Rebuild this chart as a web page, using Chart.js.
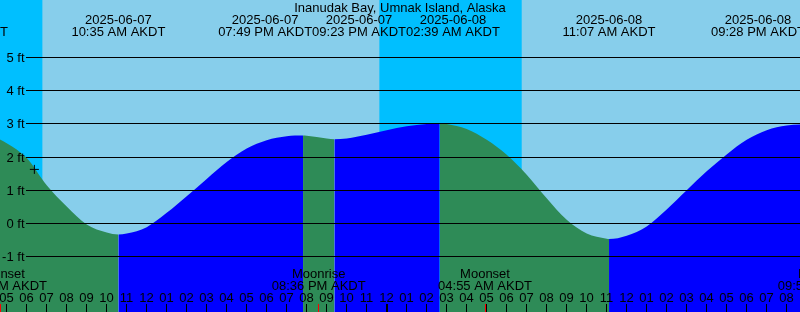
<!DOCTYPE html>
<html>
<head>
<meta charset="utf-8">
<script src="https://cdn.jsdelivr.net/npm/chart.js@4"></script>
<style>
  body { margin: 0; background: #fff; }
  canvas { display: block; }
</style>
</head>
<body>
<canvas id="tide" width="800" height="312"></canvas>
<script>
// station + data (times are AKDT)
const stationName = 'Inanudak Bay, Umnak Island, Alaska';

// hourly tide level, hours counted from 2025-06-07 00:00
const hourTimes = [5, 6, 7, 8, 9, 10, 11, 12, 13, 14, 15, 16, 17, 18, 19, 20, 21, 22, 23, 24,
                   25, 26, 27, 28, 29, 30, 31, 32, 33, 34, 35, 36, 37, 38, 39, 40, 41, 42, 43, 44, 45];
const hourLevels = [2.42, 1.97, 1.15, 0.51, -0.03, -0.27, -0.30, -0.11, 0.32, 0.82, 1.34, 1.85, 2.26, 2.51, 2.63, 2.64, 2.56, 2.56, 2.67, 2.81,
                    2.93, 3.00, 3.00, 2.85, 2.52, 2.07, 1.47, 0.76, 0.11, -0.30, -0.46, -0.37, -0.09, 0.42, 1.00, 1.57, 2.08, 2.52, 2.81, 2.95, 2.99];

// high / low tides
const extremeTimes = ['2025-06-07 02:43', '2025-06-07 10:35', '2025-06-07 19:49', '2025-06-07 21:23',
                      '2025-06-08 02:39', '2025-06-08 11:07', '2025-06-08 21:28'];
const extremeLevels = [3.05, -0.33, 2.65, 2.54, 3.02, -0.47, 3.00];

// sun: rise, set, rise
const sunTimes = ['2025-06-07 06:47', '2025-06-07 23:38', '2025-06-08 06:45'];
const sunKinds = ['rise', 'set', 'rise'];

// moon
const moonTimes = ['2025-06-07 04:40', '2025-06-07 20:36', '2025-06-08 04:55', '2025-06-08 21:54'];
const moonKinds = ['Moonset', 'Moonrise', 'Moonset', 'Moonrise'];

// "now" mark
const nowTime = '2025-06-07 06:23';
const nowLevel = 1.63;

const levelTicks = [-1, 0, 1, 2, 3, 4, 5];

const daySky = '#87ceeb', nightSky = '#00bfff';
const floodColor = '#0000ff', ebbColor = '#2e8b57';
const FONT = '13px "Liberation Sans", Arial, Helvetica, sans-serif';

function toHours(s) {
    return (Date.parse(s.replace(' ', 'T') + ':00Z') - Date.parse('2025-06-07T00:00:00Z')) / 3600000;
}
function clock(s) {
    let hh = parseInt(s.substr(11, 2)), mm = s.substr(14, 2);
    let h12 = hh % 12 || 12;
    return String(h12).padStart(2, '0') + ':' + mm + (hh < 12 ? ' AM' : ' PM') + ' AKDT';
}

// merge hourly points with the extremes
var tidePoints = hourTimes.map((t, i) => ({ x: t, y: hourLevels[i] }));
extremeTimes.forEach((s, i) => tidePoints.push({ x: toHours(s), y: extremeLevels[i] }));
tidePoints.sort((a, b) => a.x - b.x);

const decor = {
    id: 'decor',
    beforeDatasetsDraw(chart) {
        const { ctx, chartArea: a, scales: { x } } = chart;
        ctx.save();
        ctx.fillStyle = daySky;
        ctx.fillRect(a.left, a.top, a.width, a.height);
        ctx.fillStyle = nightSky;
        let nightStart = x.min;
        sunTimes.forEach((s, i) => {
            let t = toHours(s);
            if (sunKinds[i] == 'set') nightStart = t;
            else if (nightStart !== null) {
                let x0 = x.getPixelForValue(nightStart), x1 = x.getPixelForValue(t);
                ctx.fillRect(x0, a.top, x1 - x0, a.height);
                nightStart = null;
            }
        });
        if (nightStart !== null) {
            let x0 = x.getPixelForValue(nightStart);
            ctx.fillRect(x0, a.top, a.right - x0, a.height);
        }
        ctx.restore();
    },
    afterDatasetsDraw(chart) {
        const { ctx, chartArea: a, scales: { x, y } } = chart;
        const W = a.right;
        ctx.save();
        ctx.font = FONT;
        ctx.fillStyle = '#000';
        ctx.strokeStyle = '#000';
        ctx.textBaseline = 'alphabetic';

        // level lines + labels
        ctx.lineWidth = 1;
        levelTicks.forEach(v => {
            let py = Math.floor(y.getPixelForValue(v)) + 0.5;
            ctx.beginPath();
            ctx.moveTo(26, py);
            ctx.lineTo(W, py);
            ctx.stroke();
            ctx.textAlign = 'right';
            ctx.fillText(v + ' ft', 24.5, py + 4.5);
        });

        // title
        ctx.textAlign = 'center';
        ctx.fillText(stationName, W / 2, 12);

        // tide event labels, overlapping ones packed side by side around their mean
        let clusters = [];
        extremeTimes.forEach(s => {
            let w = ctx.measureText(clock(s)).width;
            clusters.push({ items: [s], xs: [x.getPixelForValue(toHours(s))], widths: [w] });
        });
        let span = c => {
            let tot = c.widths.reduce((p, q) => p + q, 0);
            let cx = c.xs.reduce((p, q) => p + q, 0) / c.xs.length;
            return [cx - tot / 2, cx + tot / 2];
        };
        let merged = true;
        while (merged) {
            merged = false;
            for (let i = 0; i < clusters.length - 1; i++) {
                let c1 = clusters[i], c2 = clusters[i + 1];
                if (span(c1)[1] > span(c2)[0]) {
                    clusters.splice(i, 2, {
                        items: c1.items.concat(c2.items),
                        xs: c1.xs.concat(c2.xs),
                        widths: c1.widths.concat(c2.widths)
                    });
                    merged = true;
                    break;
                }
            }
        }
        clusters.forEach(c => {
            let tot = c.widths.reduce((p, q) => p + q, 0);
            let cx = c.xs.reduce((p, q) => p + q, 0) / c.xs.length;
            let left = Math.min(cx, W - 42) - tot / 2;
            c.items.forEach((s, k) => {
                let mid = left + c.widths[k] / 2;
                ctx.fillText(s.substr(0, 10), mid, 24);
                ctx.fillText(clock(s), mid, 36);
                left += c.widths[k];
            });
        });

        // hour ticks
        for (let h = Math.ceil(x.min); h <= x.max; h++) {
            let px = Math.floor(x.getPixelForValue(h));
            let lbl = h % 12 == 0 ? '12' : String(h % 12).padStart(2, '0');
            ctx.fillText(lbl, px + 0.5, 301.5);
            ctx.fillRect(px, 304, h % 24 == 0 ? 2 : 1, 8);
        }

        // moon events
        moonTimes.forEach((s, i) => {
            let px = x.getPixelForValue(toHours(s));
            ctx.fillStyle = '#000';
            ctx.fillText(moonKinds[i], px, 278);
            ctx.fillText(clock(s), px, 290);
            ctx.fillStyle = '#ff0000';
            ctx.fillRect(Math.floor(px), 304, 1, 8);
        });
        ctx.restore();
    }
};

new Chart(document.getElementById('tide'), {
    type: 'line',
    data: {
        datasets: [
            {
                label: 'now',
                data: [{ x: toHours(nowTime), y: nowLevel }],
                showLine: false,
                pointStyle: 'cross',
                pointRadius: 4.5,
                pointBorderColor: '#000',
                pointBorderWidth: 1,
                order: 0
            },
            {
                label: 'tide',
                data: tidePoints,
                fill: 'start',
                cubicInterpolationMode: 'monotone',
                borderWidth: 0,
                borderColor: 'rgba(0,0,0,0)',
                backgroundColor: floodColor,
                pointRadius: 0,
                order: 1,
                segment: {
                    backgroundColor: c => c.p1.parsed.y > c.p0.parsed.y ? floodColor : ebbColor
                }
            }
        ]
    },
    options: {
        responsive: false,
        animation: false,
        devicePixelRatio: 1,
        layout: { padding: 0, autoPadding: false },
        plugins: { legend: { display: false }, title: { display: false }, tooltip: { enabled: false } },
        scales: {
            x: { type: 'linear', min: 4.665, max: 44.665, display: false },
            y: { type: 'linear', min: -2.666, max: 6.732, display: false }
        }
    },
    plugins: [decor]
});
</script>
</body>
</html>
